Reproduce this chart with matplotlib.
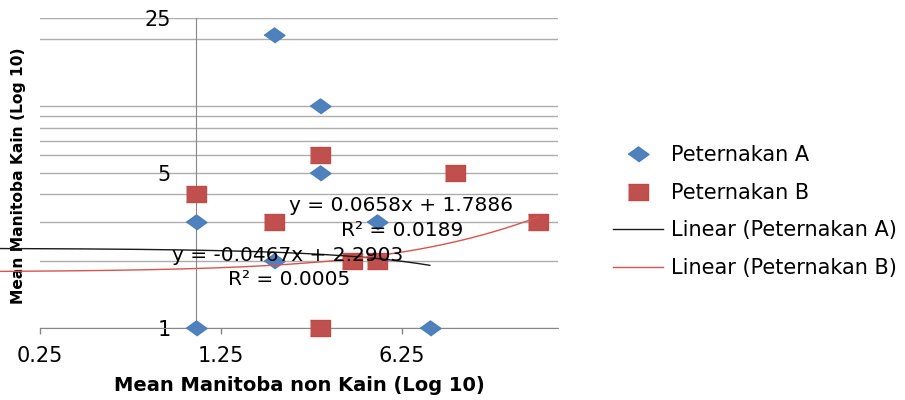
import numpy as np
import matplotlib.pyplot as plt
from matplotlib.ticker import FixedLocator, FixedFormatter, NullFormatter, NullLocator

plt.rcParams['font.family'] = ['DejaVu Sans']

# data
a_x = [2, 3, 3, 1, 5, 2, 1, 8]
a_y = [21, 10, 5, 3, 3, 2, 1, 1]
b_x = [3, 10, 1, 2, 21, 4, 5, 3]
b_y = [6, 5, 4, 3, 3, 2, 2, 1]

# trendline equations shown on the chart: slope, intercept, R2
trend_a = (-0.0467, 2.2903, 0.0005)
trend_b = (0.0658, 1.7886, 0.0189)

x_ticks = [0.25, 1.25, 6.25]
x_ticklabels = ['0.25', '1.25', '6.25']
y_ticks = [1, 5, 25]
y_ticklabels = ['1', '5', '25']
y_minor = [2, 3, 4, 6, 7, 8, 9, 10, 20]

blue = '#4F81BD'
red = '#C0504D'
grid_c = '#ADADAD'
axis_c = '#868686'

diamond = [(-1, 0), (0, 0.72), (1, 0), (0, -0.72)]
square = [(-1, -0.79), (1, -0.79), (1, 0.79), (-1, 0.79)]

fig = plt.figure(figsize=(9.05, 4.0), dpi=100)
ax = fig.add_axes([40 / 905, 72 / 400, 518 / 905, 310 / 400])

ax.set_xscale('log', base=5)
ax.set_yscale('log', base=5)
ax.set_xlim(0.25, 25)
ax.set_ylim(1, 25)

# markers
la, = ax.plot(a_x, a_y, linestyle='none', marker=diamond, ms=15, color=blue,
              mec='#4A7EBB', zorder=3, clip_on=False)
lb, = ax.plot(b_x, b_y, linestyle='none', marker=square, ms=15, color=red,
              mec='#BE4B48', zorder=3, clip_on=False)

# trendlines run from the chart's left edge to the series maximum
x_left = ax.transData.inverted().transform((0, 200))[0]
xs_a = np.geomspace(x_left, max(a_x), 200)
xs_b = np.geomspace(x_left, max(b_x), 200)
ta, = ax.plot(xs_a, trend_a[0] * xs_a + trend_a[1], color='#1A1A1A', lw=1.0,
              zorder=4, clip_on=False)
tb, = ax.plot(xs_b, trend_b[0] * xs_b + trend_b[1], color='#D9534F', lw=1.0,
              zorder=4, clip_on=False)

def eq(t):
    sign = '+' if t[1] >= 0 else '-'
    return 'y = %.4fx %s %.4f' % (t[0], sign, abs(t[1])), 'R² = %.4f' % t[2]

eb1, eb2 = eq(trend_b)
ea1, ea2 = eq(trend_a)
ax.text(0.697, 0.394, eb1, transform=ax.transAxes, ha='center', va='center', fontsize=14.5, zorder=5)
ax.text(0.699, 0.313, eb2, transform=ax.transAxes, ha='center', va='center', fontsize=14.5, zorder=5)
ax.text(0.479, 0.235, ea1, transform=ax.transAxes, ha='center', va='center', fontsize=14.5, zorder=5)
ax.text(0.480, 0.158, ea2, transform=ax.transAxes, ha='center', va='center', fontsize=14.5, zorder=5)

# axes styling
for s in ['top', 'right']:
    ax.spines[s].set_visible(False)
ax.spines['left'].set_position(('data', 1))
ax.spines['left'].set_color(axis_c)
ax.spines['bottom'].set_color(axis_c)

ax.xaxis.set_major_locator(FixedLocator(x_ticks))
ax.xaxis.set_major_formatter(FixedFormatter(x_ticklabels))
ax.xaxis.set_minor_locator(NullLocator())
ax.yaxis.set_major_locator(FixedLocator(y_ticks))
ax.yaxis.set_major_formatter(FixedFormatter(y_ticklabels))
ax.yaxis.set_minor_locator(FixedLocator(y_minor))
ax.yaxis.set_minor_formatter(NullFormatter())

ax.tick_params(axis='x', which='major', direction='out', length=4.3, width=1,
               color=axis_c, pad=9, labelsize=15)
ax.tick_params(axis='y', which='both', length=0, pad=18, labelsize=15)

ax.set_axisbelow(True)
ax.grid(True, which='both', axis='y', color=grid_c, lw=1.0)
ax.grid(False, axis='x')

ax.set_xlabel('Mean Manitoba non Kain (Log 10)', fontsize=14, fontweight='bold', labelpad=7)
ax.set_ylabel('Mean Manitoba Kain (Log 10)', fontsize=11.2, fontweight='bold', va='center')
ax.yaxis.set_label_coords(-0.042, 0.49)

ax.legend([la, lb, ta, tb],
          ['Peternakan A', 'Peternakan B', 'Linear (Peternakan A)', 'Linear (Peternakan B)'],
          loc='center left', bbox_to_anchor=(613 / 905, 0.471), bbox_transform=fig.transFigure,
          frameon=False, fontsize=15, handlelength=2.4, handletextpad=0.38,
          labelspacing=0.84, borderpad=0, borderaxespad=0, numpoints=1)

fig.savefig('out.png', dpi=100)
